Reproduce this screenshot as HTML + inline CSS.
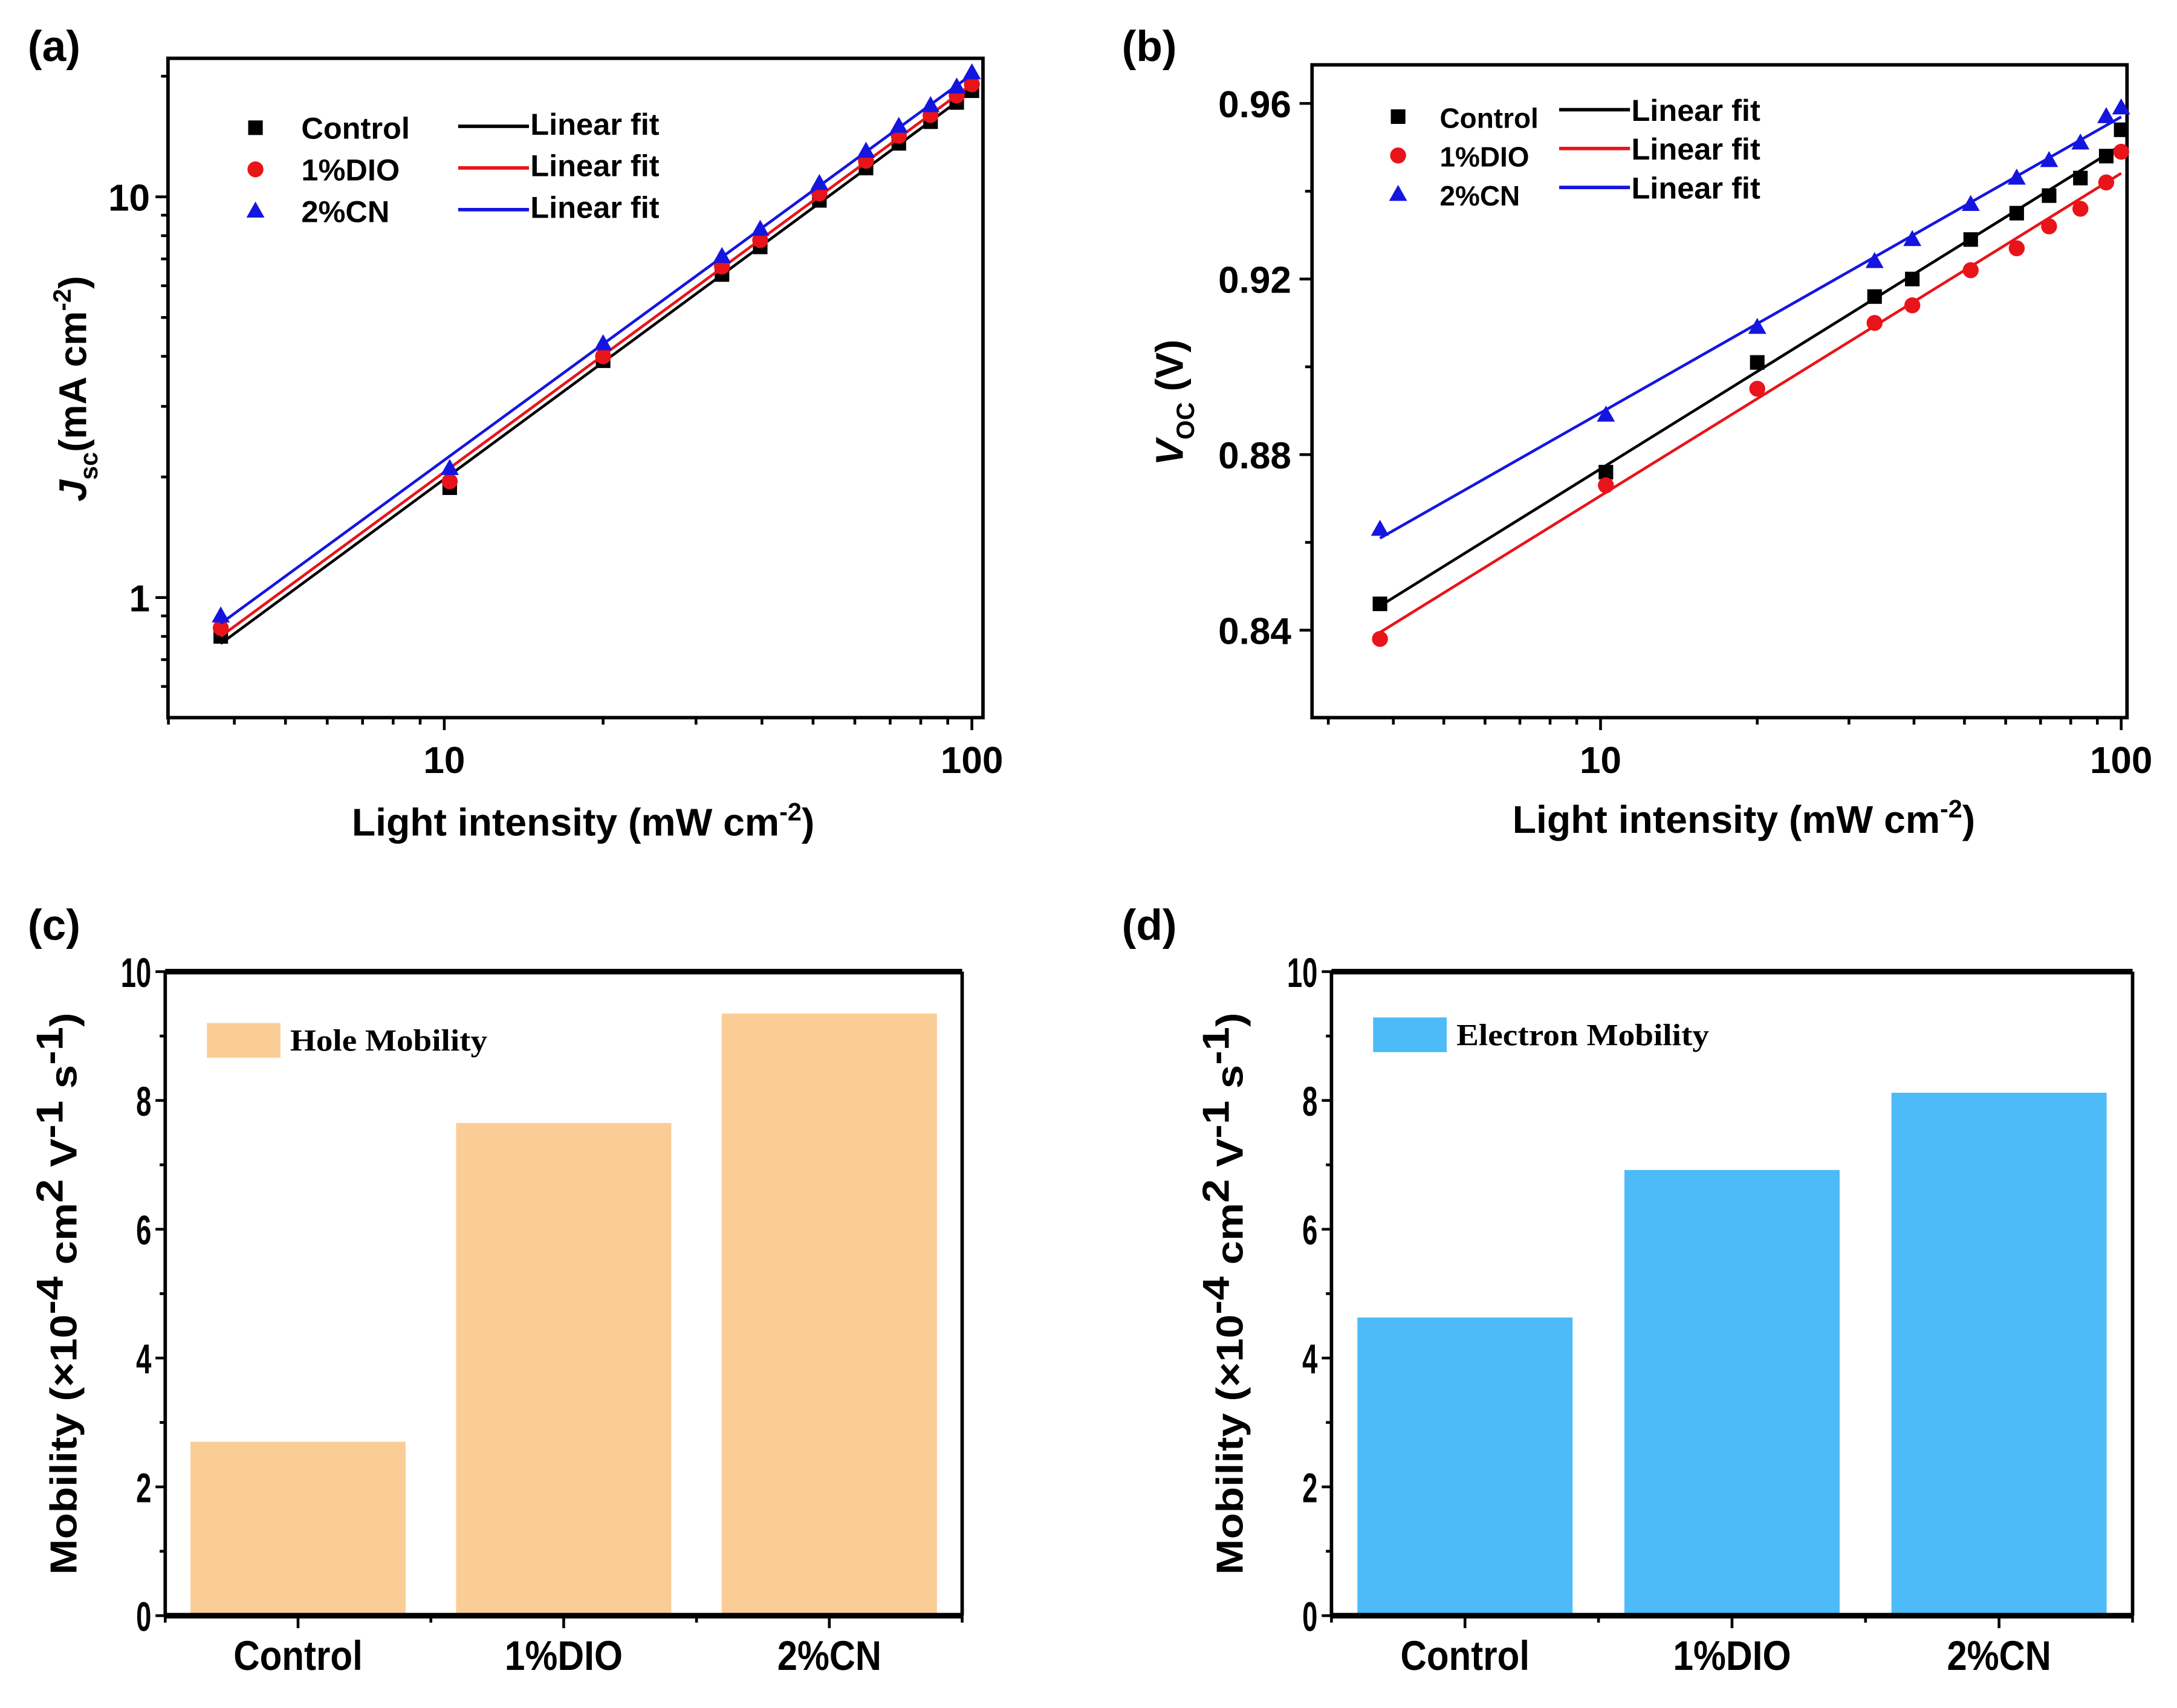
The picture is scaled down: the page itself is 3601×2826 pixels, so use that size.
<!DOCTYPE html>
<html><head><meta charset="utf-8"><style>
html,body{margin:0;padding:0;background:#fff}
svg{display:block}
text{font-family:"Liberation Sans",sans-serif;font-weight:bold;fill:#000}
</style></head><body>
<svg id="fig" xmlns="http://www.w3.org/2000/svg" width="3601" height="2826" viewBox="0 0 1568 1230.5">
<rect width="1568" height="1230.5" fill="#fff"/>
<g id="pa"></g>
<g id="pb"></g>
<g id="pc"></g>
<g id="pd"></g>
</svg>
<script>
const intensity = [3.77, 10.24, 20, 33.6, 39.7, 51.4, 63, 72.7, 83.5, 93.6, 100];
const jscControl = [0.80, 1.88, 3.9, 6.4, 7.5, 9.8, 11.8, 13.6, 15.4, 17.2, 18.4];
const jscDIO = [0.84, 1.95, 4.0, 6.7, 7.8, 10.2, 12.3, 14.2, 16.0, 17.9, 19.1];
const jscCN = [0.90, 2.1, 4.3, 7.1, 8.3, 10.8, 13.0, 15.0, 16.9, 18.8, 20.4];
const vocControl = [0.846, 0.876, 0.901, 0.916, 0.920, 0.929, 0.935, 0.939, 0.943, 0.948, 0.954];
const vocDIO = [0.838, 0.873, 0.895, 0.910, 0.914, 0.922, 0.927, 0.932, 0.936, 0.942, 0.949];
const vocCN = [0.863, 0.889, 0.909, 0.924, 0.929, 0.937, 0.943, 0.947, 0.951, 0.957, 0.959];
const barCategories = ['Control', '1%DIO', '2%CN'];
const holeMobility = [2.7, 7.65, 9.35];
const electronMobility = [4.63, 6.92, 8.12];
const barTicks = [0, 2, 4, 6, 8, 10];
const vocTicks = [0.84, 0.88, 0.92, 0.96];

const NS = 'http://www.w3.org/2000/svg';
function el(parent, tag, attrs, txt) {
  const e = document.createElementNS(NS, tag);
  for (const k in attrs) e.setAttribute(k, attrs[k]);
  if (txt !== undefined) e.textContent = txt;
  parent.appendChild(e);
  return e;
}
const lg = Math.log10;
function fitLine(xs, ys, fx, fy) {
  const X = xs.map(fx), Y = ys.map(fy), n = X.length;
  const mx = X.reduce((a, b) => a + b) / n, my = Y.reduce((a, b) => a + b) / n;
  let sxy = 0, sxx = 0;
  for (let i = 0; i < n; i++) { sxy += (X[i] - mx) * (Y[i] - my); sxx += (X[i] - mx) ** 2; }
  const b = sxy / sxx;
  return [0, b, my - b * mx];
}
function marker(g, type, x, y, color, s) {
  let m;
  if (type === 'sq') m = el(g, 'rect', {x: x - s / 2, y: y - s / 2, width: s, height: s, fill: color});
  else if (type === 'ci') m = el(g, 'circle', {cx: x, cy: y, r: s / 2 + 0.5, fill: color});
  else m = el(g, 'polygon', {points: `${x},${y - s * 0.65} ${x - s * 0.62},${y + s * 0.45} ${x + s * 0.62},${y + s * 0.45}`, fill: color});
  return m;
}

// ---------- Panel A ----------
(function () {
  const g = document.getElementById('pa');
  const L = 121, R = 708, T = 42, B = 517;
  const x = v => 320 + (lg(v) - 1) * 380;
  const y = v => 430.5 - lg(v) * 288.7;
  let t = el(g, 'text', {x: 20, y: 44, 'font-size': 31}, '(a)');
   
  [2,3,4,5,6,7,8,9,10,20,30,40,50,60,70,80,90,100].forEach(v => {
    const px = x(v); if (px < L || px > R) return;
    const major = v === 10 || v === 100;
    el(g, 'line', {x1: px, y1: B, x2: px, y2: B + (major ? 9 : 5), stroke: '#000', 'stroke-width': 2});
  });
  [0.5,0.6,0.7,0.8,0.9,1,2,3,4,5,6,7,8,9,10,20].forEach(v => {
    const py = y(v); if (py < T || py > B) return;
    const major = v === 1 || v === 10;
    el(g, 'line', {x1: L, y1: py, x2: L - (major ? 9 : 5), y2: py, stroke: '#000', 'stroke-width': 2});
  });
  [[10,'10'],[100,'100']].forEach(([v, s]) => {
    const tt = el(g, 'text', {x: x(v), y: 557, 'font-size': 27, 'text-anchor': 'middle'}, s);
     
  });
  [[1,'1'],[10,'10']].forEach(([v, s]) => {
    const tt = el(g, 'text', {x: 108, y: y(v) + 10, 'font-size': 27, 'text-anchor': 'end'}, s);
     
  });
  const fr = el(g, 'rect', {x: L, y: T, width: R - L, height: B - T, fill: 'none', stroke: '#000', 'stroke-width': 2.5});
   
  const xt = el(g, 'text', {x: 420, y: 602, 'font-size': 28, 'text-anchor': 'middle'});
   
  xt.innerHTML = 'Light intensity (mW cm<tspan dy="-11" font-size="18">-2</tspan><tspan dy="11">)</tspan>';
  const yt = el(g, 'text', {transform: 'translate(62,280) rotate(-90)', 'font-size': 28, 'text-anchor': 'middle'});
   
  yt.innerHTML = '<tspan font-style="italic">J</tspan><tspan dy="8" font-size="18">sc</tspan><tspan dy="-8">(mA cm</tspan><tspan dy="-11" font-size="18">-2</tspan><tspan dy="11">)</tspan>';
  const series = [['control', jscControl, '#000', 'sq'], ['dio', jscDIO, '#e8141a', 'ci'], ['cn', jscCN, '#1515e0', 'tr']];
  series.forEach(([nm, data, col, mk]) => {
    const f = fitLine(intensity, data, lg, lg);
    const x0 = intensity[0], x1 = intensity[intensity.length - 1];
    const ln = el(g, 'line', {x1: x(x0), y1: y(10 ** (f[2] + f[1] * lg(x0))), x2: x(x1), y2: y(10 ** (f[2] + f[1] * lg(x1))), stroke: col, 'stroke-width': 2});
     
    intensity.forEach((v, i) => {
      const m = marker(g, mk, x(v), y(data[i]), col, 10.5);
       
    });
  });
  const names = ['Control', '1%DIO', '2%CN'];
  series.forEach(([nm, d, col, mk], i) => {
    const cy = 92 + i * 30;
    const m = marker(g, mk, 184, cy, col, 10.5);
     
    const a = el(g, 'text', {x: 217, y: cy + 8, 'font-size': 22}, names[i]);
     
    const l = el(g, 'line', {x1: 330, y1: cy - 1, x2: 381, y2: cy - 1, stroke: col, 'stroke-width': 2.5});
     
    const b = el(g, 'text', {x: 382, y: cy + 5, 'font-size': 22}, 'Linear fit');
     
  });
})();

// ---------- Panel B ----------
(function () {
  const g = document.getElementById('pb');
  const L = 945, R = 1532, T = 46.7, B = 517;
  const x = v => 1152.8 + (lg(v) - 1) * 375;
  const y = v => 454 - (v - 0.84) / 0.04 * 126.5;
  let t = el(g, 'text', {x: 808, y: 44, 'font-size': 31}, '(b)');
   
  [2,3,4,5,6,7,8,9,10,20,30,40,50,60,70,80,90,100].forEach(v => {
    const px = x(v); if (px < L || px > R) return;
    const major = v === 10 || v === 100;
    el(g, 'line', {x1: px, y1: B, x2: px, y2: B + (major ? 9 : 5), stroke: '#000', 'stroke-width': 2});
  });
  [0.82,0.84,0.86,0.88,0.90,0.92,0.94,0.96].forEach(v => {
    const py = y(v); if (py < T || py > B) return;
    const major = vocTicks.some(k => Math.abs(k - v) < 1e-6);
    el(g, 'line', {x1: L, y1: py, x2: L - (major ? 9 : 5), y2: py, stroke: '#000', 'stroke-width': 2});
  });
  [[10,'10'],[100,'100']].forEach(([v, s]) => {
    const tt = el(g, 'text', {x: x(v), y: 557, 'font-size': 27, 'text-anchor': 'middle'}, s);
     
  });
  vocTicks.forEach(v => {
    const tt = el(g, 'text', {x: 930, y: y(v) + 10, 'font-size': 27, 'text-anchor': 'end'}, v.toFixed(2));
     
  });
  const fr = el(g, 'rect', {x: L, y: T, width: R - L, height: B - T, fill: 'none', stroke: '#000', 'stroke-width': 2.5});
   
  const xt = el(g, 'text', {x: 1256, y: 600, 'font-size': 28, 'text-anchor': 'middle'});
   
  xt.innerHTML = 'Light intensity (mW cm<tspan dy="-11" font-size="18">-2</tspan><tspan dy="11">)</tspan>';
  const yt = el(g, 'text', {transform: 'translate(852,290) rotate(-90)', 'font-size': 28, 'text-anchor': 'middle'});
   
  yt.innerHTML = '<tspan font-style="italic">V</tspan><tspan dy="8" font-size="18">OC</tspan><tspan dy="-8"> (V)</tspan>';
  const series = [['control', vocControl, '#000', 'sq'], ['dio', vocDIO, '#e8141a', 'ci'], ['cn', vocCN, '#1515e0', 'tr']];
  series.forEach(([nm, data, col, mk]) => {
    const f = fitLine(intensity, data, lg, v => v);
    const x0 = intensity[0], x1 = intensity[intensity.length - 1];
    const ln = el(g, 'line', {x1: x(x0), y1: y(f[2] + f[1] * lg(x0)), x2: x(x1), y2: y(f[2] + f[1] * lg(x1)), stroke: col, 'stroke-width': 2});
     
    intensity.forEach((v, i) => {
      const m = marker(g, mk, x(v), y(data[i]), col, 10.5);
       
    });
  });
  const names = ['Control', '1%DIO', '2%CN'];
  series.forEach(([nm, d, col, mk], i) => {
    const cy = 84 + i * 28;
    const m = marker(g, mk, 1007, cy, col, 10.5);
     
    const a = el(g, 'text', {x: 1037, y: cy + 8, 'font-size': 20}, names[i]);
     
    const l = el(g, 'line', {x1: 1123, y1: cy - 5, x2: 1174, y2: cy - 5, stroke: col, 'stroke-width': 2.5});
     
    const b = el(g, 'text', {x: 1175, y: cy + 3, 'font-size': 22}, 'Linear fit');
     
  });
})();

// ---------- Bar panels ----------
const catWidths = [93, 85, 75];
function barPanel(id, label, lx, L, R, values, color, legendText, legY, legTextLen) {
  const g = document.getElementById(id);
  const T = 700, B = 1164;
  const y = v => B - v / 10 * (B - T);
  const bw = (R - L) / 3;
  const cx = i => L + bw * (i + 0.5);
  let t = el(g, 'text', {x: lx, y: 677, 'font-size': 31}, label);
   
  values.forEach((v, i) => {
    const w = 155;
    const r = el(g, 'rect', {x: cx(i) - w / 2, y: y(v), width: w, height: B - y(v), fill: color});
     
  });
  el(g, 'line', {x1: L, y1: T, x2: R, y2: T, stroke: '#000', 'stroke-width': 4});
  el(g, 'line', {x1: L, y1: B, x2: R, y2: B, stroke: '#000', 'stroke-width': 4});
  el(g, 'line', {x1: L, y1: T, x2: L, y2: B, stroke: '#000', 'stroke-width': 2.5});
  el(g, 'line', {x1: R, y1: T, x2: R, y2: B, stroke: '#000', 'stroke-width': 2.5});
  for (let v = 0; v <= 10; v++) {
    const major = barTicks.includes(v);
    el(g, 'line', {x1: L, y1: y(v), x2: L - (major ? 7 : 4), y2: y(v), stroke: '#000', 'stroke-width': 2});
  }
  barTicks.forEach(v => {
    const s = String(v);
    const tt = el(g, 'text', {x: L - 30, y: y(v) + 11, 'font-size': 30, 'text-anchor': 'end', textLength: s.length * 11, lengthAdjust: 'spacingAndGlyphs'}, s);
    tt.setAttribute('x', L - 10);
     
  });
  for (let i = 0; i <= 3; i++) {
    const px = L + bw * i;
    el(g, 'line', {x1: px, y1: B, x2: px, y2: B + 5, stroke: '#000', 'stroke-width': 2});
  }
  barCategories.forEach((c, i) => {
    el(g, 'line', {x1: cx(i), y1: B, x2: cx(i), y2: B + 9, stroke: '#000', 'stroke-width': 2});
    const tt = el(g, 'text', {x: cx(i) - catWidths[i] / 2, y: 1203, 'font-size': 30, textLength: catWidths[i], lengthAdjust: 'spacingAndGlyphs'}, c);
     
  });
  const yt = el(g, 'text', {transform: `translate(${L - 64},932) rotate(-90)`, 'font-size': 27, 'text-anchor': 'middle', textLength: 405, lengthAdjust: 'spacingAndGlyphs'});
   
  yt.innerHTML = 'Mobility (×10<tspan dy="-10">-4</tspan><tspan dy="10"> cm</tspan><tspan dy="-10">2</tspan><tspan dy="10"> V</tspan><tspan dy="-10">-1</tspan><tspan dy="10"> s</tspan><tspan dy="-10">-1</tspan><tspan dy="10">)</tspan>';
  const lr = el(g, 'rect', {x: L + 30, y: legY, width: 53, height: 25, fill: color});
   
  const lt = el(g, 'text', {x: L + 90, y: legY + 20, 'font-size': 22, style: 'font-family:"Liberation Serif",serif', textLength: legTextLen, lengthAdjust: 'spacingAndGlyphs'}, legendText);
   
}
barPanel('pc', '(c)', 20, 119, 693, holeMobility, '#fbcd96', 'Hole Mobility', 737, 142);
barPanel('pd', '(d)', 808, 959, 1536, electronMobility, '#4cbbf8', 'Electron Mobility', 733, 182);
</script>
</body></html>
